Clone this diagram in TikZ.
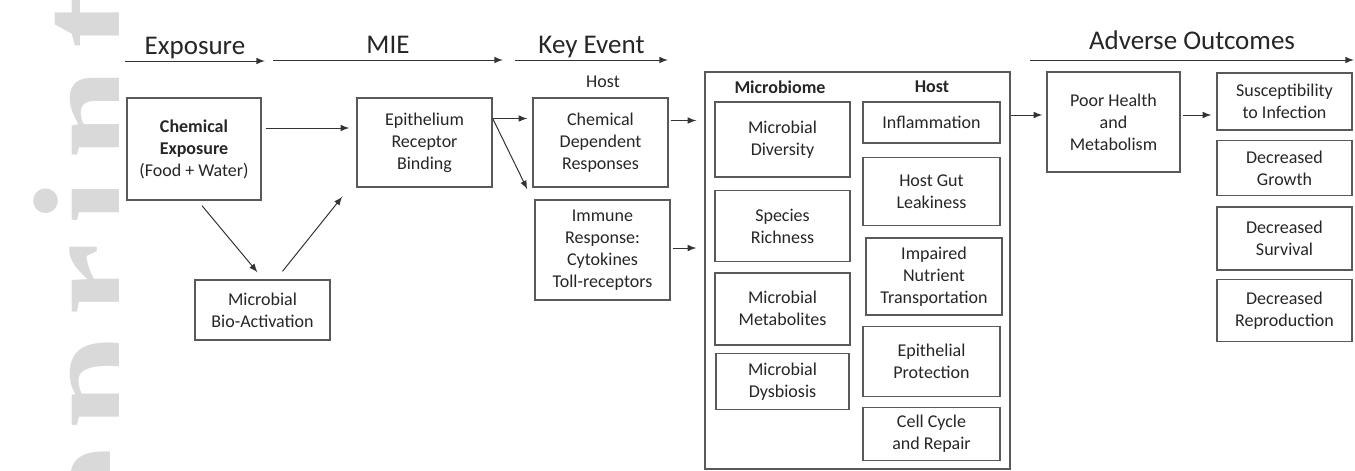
\documentclass[tikz,border=0pt]{standalone}
\usepackage{fontspec}
\setmainfont{Carlito}
\newfontfamily\markfont[LetterSpace=12]{Liberation Serif}
\usetikzlibrary{positioning,calc}

\tikzset{
  box/.style={draw=black!65, line width=0.7pt, align=center, text=black!85,
    inner sep=1pt, font=\fontsize{9}{11}\selectfont},
  sz/.style 2 args={minimum width=#1*0.5pt, minimum height=#2*0.5pt},
  title/.style={font=\fontsize{13.5}{16}\selectfont, text=black!85, inner sep=1pt,
    text height=1.5ex, text depth=0.45ex},
  head/.style={font=\fontsize{9}{11}\selectfont, text=black!85},
  flow/.style={->, >=latex, line width=0.5pt, black!80},
}

\begin{document}
\begin{tikzpicture}[x=0.5pt, y=-0.5pt]
  \useasboundingbox (0,0) rectangle (1355,471);

  % watermark at the left edge
  \begin{scope}
    \clip (0,0) rectangle (118,471);
    \node [rotate=90, anchor=base east, inner sep=0, text=black!15,
      font=\markfont\bfseries\fontsize{82}{82}\selectfont] (mark) at (147,-7) {preprint};
  \end{scope}

  % stage arrows
  \coordinate (e0) at (125,61);  \coordinate (e1) at (265,61);
  \coordinate (m0) at (273,60);  \coordinate (m1) at (503,60);
  \coordinate (k0) at (515,60);  \coordinate (k1) at (668,60);
  \coordinate (a0) at (1030,60); \coordinate (a1) at (1354,60);
  \draw [flow] (e0) -- node [title, above] (lblexp) {Exposure} (e1);
  \draw [flow] (m0) -- node [title, above] (lblmie) {MIE} (m1);
  \draw [flow] (k0) -- node [title, above] (lblkey) {Key Event} (k1);
  \draw [flow] (a0) -- node [title, above, yshift=2pt] (lblout) {Adverse Outcomes} (a1);

  % exposure and MIE
  \node [box, sz={134}{102}] (chem) at (194,149) {\textbf{Chemical}\\\textbf{Exposure}\\(Food + Water)};
  \node [box, sz={135}{60}] (bio) at (262.5,310) {Microbial\\Bio-Activation};
  \node [box, sz={135}{89}] (epi) at (424.5,142.5) {Epithelium\\Receptor\\Binding};

  % key events
  \node [head] (hosttop) at (603,82) {Host};
  \node [box, sz={135}{89}] (cdr) at (600.5,142.5) {Chemical\\Dependent\\Responses};
  \node [box, sz={135}{100}] (imm) at (602.5,250) {Immune\\Response:\\Cytokines\\Toll-receptors};

  % gut box
  \node [box, sz={305}{397}] (gut) at (857.5,270.5) {};
  \node [head, font=\bfseries\fontsize{9}{11}\selectfont] (hmicro) at (780,87) {Microbiome};
  \node [head, font=\bfseries\fontsize{9}{11}\selectfont] (hhost) at (932,87) {Host};

  \node [box, sz={135}{75}] (div) at (782.5,139.5) {Microbial\\Diversity};
  \node [box, sz={135}{71}] (rich) [below=6pt of div] {Species\\Richness};
  \node [box, sz={135}{72}] (metab) [below=5pt of rich] {Microbial\\Metabolites};
  \node [box, sz={133}{56}] (dysb) [below=3.5pt of metab] {Microbial\\Dysbiosis};

  \node [box, sz={137}{41}] (infl) at (931.5,122.5) {Inflammation};
  \node [box, sz={137}{68}] (leak) [below=6.5pt of infl] {Host Gut\\Leakiness};
  \node [box, sz={136}{77}] (nutr) [below=5.5pt of leak, xshift=1.25pt] {Impaired\\Nutrient\\Transportation};
  \node [box, sz={137}{70}] (prot) [below=5pt of nutr, xshift=-1.25pt] {Epithelial\\Protection};
  \node [box, sz={137}{53}] (cell) [below=5pt of prot] {Cell Cycle\\and Repair};

  % adverse outcomes
  \node [box, sz={133}{100}] (poor) at (1113.5,122) {Poor Health\\and\\Metabolism};
  \node [box, sz={135}{57}] (susc) at (1284.5,101.5) {Susceptibility\\to Infection};
  \node [box, sz={135}{55}] (grow) [below=4.5pt of susc] {Decreased\\Growth};
  \node [box, sz={135}{63}] (surv) [below=5pt of grow] {Decreased\\Survival};
  \node [box, sz={135}{62}] (repr) [below=4pt of surv] {Decreased\\Reproduction};

  % connectors
  \draw [flow] ($(chem.east)+(4,-21)$) -- ($(chem.east -| epi.west)+(-7,-21)$);
  \draw [flow] ($(chem.south)+(8,5)$) -- ($(bio.north)+(-5,-7)$);
  \draw [flow] ($(bio.north)+(20,-8)$) -- ($(epi.south west)+(-14,9)$);
  \draw [flow] ($(epi.east)+(0,-24)$) -- ($(cdr.west)+(-5,-24)$);
  \draw [flow] ($(epi.east)+(0,-24)$) -- ($(imm.north west)+(-7,-10)$);
  \draw [flow] ($(cdr.east)+(2,-22)$) -- ($(cdr.east -| gut.west)+(-8,-22)$);
  \draw [flow] ($(imm.east)+(2,-2)$) -- ($(imm.east -| gut.west)+(-8,-2)$);
  \draw [flow] ($(gut.east |- poor.west)+(0,-7)$) -- ($(poor.west)+(-4,-7)$);
  \draw [flow] ($(poor.east)+(2,-7)$) -- ($(poor.east -| susc.west)+(-5,-7)$);
\end{tikzpicture}
\end{document}
